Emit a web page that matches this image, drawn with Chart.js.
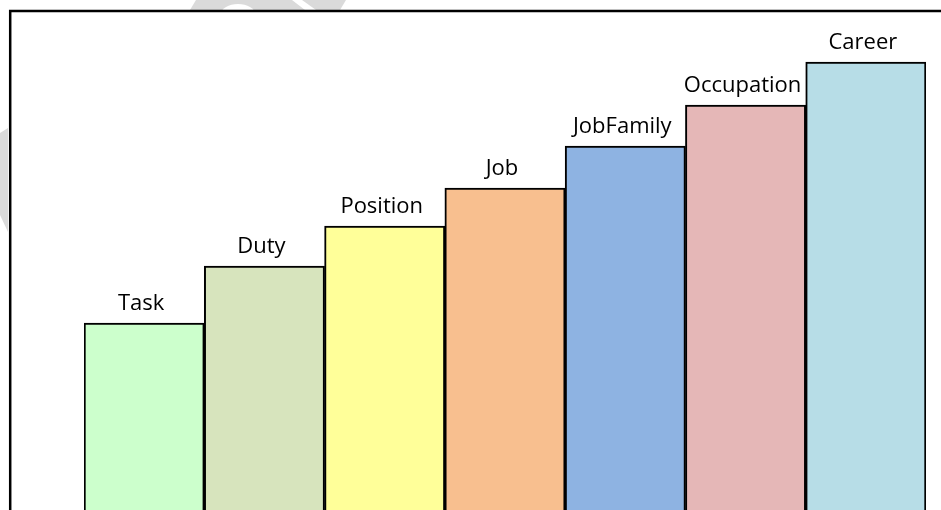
<!DOCTYPE html>
<html>
<head>
<meta charset="utf-8">
<script src="https://cdn.jsdelivr.net/npm/chart.js@4/dist/chart.umd.min.js"></script>
<style>
  html, body { margin: 0; padding: 0; background: #fff; }
  #wrap { width: 941px; height: 510px; }
</style>
</head>
<body>
<div id="wrap"><canvas id="ladderChart" width="941" height="510"></canvas></div>
<script>
let stages = ['Task', 'Duty', 'Position', 'Job', 'JobFamily', 'Occupation', 'Career'];
let levels = [187, 244, 284, 322, 364, 405, 448];
let fills = ['#CCFFCC', '#D7E4BD', '#FFFF99', '#F8BF8F', '#8EB3E2', '#E5B7B7', '#B7DDE7'];

// outer frame like the slide box, plus bits of the faded watermark outside it
let framePlugin = {
  id: 'frame',
  beforeDraw: (chart) => {
    let ctx = chart.ctx;
    ctx.save();
    ctx.fillStyle = '#fff';
    ctx.fillRect(0, 0, chart.width, chart.height);

    ctx.fillStyle = '#dadada';
    ctx.beginPath();
    ctx.moveTo(190, 10);
    ctx.lineTo(196, 0);
    ctx.lineTo(346, 0);
    ctx.lineTo(340, 10);
    ctx.closePath();
    ctx.fill();
    ctx.beginPath();
    ctx.moveTo(0, 133);
    ctx.lineTo(8, 128);
    ctx.lineTo(8, 232);
    ctx.lineTo(0, 215);
    ctx.closePath();
    ctx.fill();
    ctx.fillStyle = '#fff';
    ctx.beginPath();
    ctx.ellipse(238, 14, 17, 10, 0, 0, Math.PI * 2);
    ctx.fill();
    ctx.beginPath();
    ctx.moveTo(292, 0);
    ctx.lineTo(302, 0);
    ctx.lineTo(316, 10);
    ctx.lineTo(305, 10);
    ctx.closePath();
    ctx.fill();

    ctx.strokeStyle = '#000';
    ctx.lineWidth = 2.5;
    ctx.fillStyle = '#fff';
    ctx.fillRect(10.2, 11, 1000, 600);
    ctx.strokeRect(10.2, 11, 1000, 600);
    ctx.restore();
  },
};

// stage name above each bar
let stageLabels = {
  id: 'stageLabels',
  afterDatasetsDraw: (chart) => {
    let ctx = chart.ctx;
    let meta = chart.getDatasetMeta(0);
    ctx.save();
    ctx.font = '22px "Open Sans"';
    ctx.fillStyle = '#000';
    ctx.textAlign = 'center';
    ctx.textBaseline = 'alphabetic';
    meta.data.forEach((bar, i) => {
      ctx.fillText(stages[i], bar.x - 3, bar.y - 13);
    });
    ctx.restore();
  },
};

let ctx = document.getElementById('ladderChart').getContext('2d');

new Chart(ctx, {
  type: 'bar',
  data: {
    labels: stages,
    datasets: [
      {
        data: levels,
        backgroundColor: fills,
        borderColor: '#000',
        borderWidth: 2,
        borderSkipped: 'bottom',
        barPercentage: 1,
        categoryPercentage: 1,
      },
    ],
  },
  options: {
    responsive: false,
    animation: false,
    layout: {
      padding: { left: 84, right: 15, top: 10, bottom: 0 },
    },
    plugins: {
      legend: { display: false },
      tooltip: { enabled: false },
    },
    scales: {
      x: { display: false, offset: true },
      y: { display: false, min: 0, max: 500 },
    },
  },
  plugins: [framePlugin, stageLabels],
});
</script>
</body>
</html>
